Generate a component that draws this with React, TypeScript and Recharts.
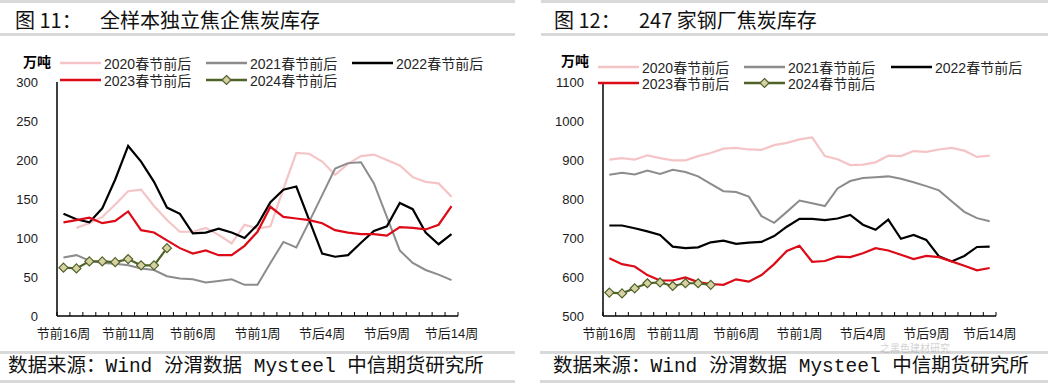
import { LineChart, Line, XAxis, YAxis } from "recharts";

const weeks = [
  "节前16周", "节前15周", "节前14周", "节前13周", "节前12周", "节前11周", "节前10周", "节前9周",
  "节前8周", "节前7周", "节前6周", "节前5周", "节前4周", "节前3周", "节前2周", "节前1周",
  "节后0周", "节后1周", "节后2周", "节后3周", "节后4周", "节后5周", "节后6周", "节后7周",
  "节后8周", "节后9周", "节后10周", "节后11周", "节后12周", "节后13周", "节后14周",
];
const labelIdx = [0, 5, 10, 15, 20, 25, 30];

// 图11 全样本独立焦企焦炭库存（万吨）
const coke20 = [null, 113, 119, 127, 143, 160, 162, 141, 123, 108, 108, 113, 104, 93, 117, 112, 115, 163, 209, 208, 198, 181, 195, 205, 207, 200, 193, 178, 172, 170, 153];
const coke21 = [75, 78, 71, 68, 67, 65, 61, 59, 51, 48, 47, 43, 45, 47, 40, 40, 68, 95, 88, 121, 155, 189, 196, 197, 170, 127, 84, 68, 59, 53, 46];
const coke22 = [131, 124, 120, 138, 175, 218, 198, 172, 139, 131, 106, 107, 112, 107, 100, 117, 146, 162, 166, 123, 80, 76, 78, 94, 109, 115, 145, 137, 107, 92, 105];
const coke23 = [120, 123, 126, 119, 122, 134, 110, 107, 97, 87, 80, 84, 78, 78, 90, 108, 140, 127, 125, 123, 119, 110, 107, 105, 105, 103, 114, 113, 111, 117, 141];
const coke24 = [62, 61, 70, 70, 69, 73, 65, 65, 87];

// 图12 247家钢厂焦炭库存（万吨）
const mill20 = [901, 905, 901, 912, 905, 899, 899, 910, 918, 929, 931, 927, 926, 938, 944, 953, 958, 910, 902, 887, 888, 894, 911, 910, 923, 921, 927, 931, 924, 908, 911];
const mill21 = [862, 867, 863, 873, 864, 875, 869, 858, 839, 820, 818, 806, 756, 739, 767, 796, 789, 782, 827, 846, 854, 856, 858, 852, 843, 833, 822, 794, 767, 751, 743];
const mill22 = [732, 732, 725, 717, 708, 678, 674, 676, 689, 693, 685, 688, 690, 705, 729, 749, 749, 746, 750, 759, 734, 721, 747, 698, 708, 695, 653, 640, 654, 677, 678];
const mill23 = [648, 633, 627, 605, 591, 591, 599, 587, 582, 580, 594, 588, 605, 633, 667, 680, 639, 641, 652, 651, 661, 674, 668, 657, 646, 654, 651, 640, 629, 617, 623];
const mill24 = [560, 558, 571, 584, 586, 577, 584, 584, 580];

const leftTicks = [0, 50, 100, 150, 200, 250, 300];
const rightTicks = [500, 600, 700, 800, 900, 1000, 1100];

const PINK = "#f5c4c6";
const GRAY = "#8c8c8c";
const BLACK = "#000000";
const RED = "#dd0a18";
const GREEN = "#4f6228";
const DIAMOND = "#d7d1a3";

const series = [
  { key: "s2020", name: "2020春节前后", color: PINK },
  { key: "s2021", name: "2021春节前后", color: GRAY },
  { key: "s2022", name: "2022春节前后", color: BLACK },
  { key: "s2023", name: "2023春节前后", color: RED },
  { key: "s2024", name: "2024春节前后", color: GREEN },
];

const FONT = "'Liberation Sans', 'Noto Sans CJK SC', sans-serif";

function buildRows(cols: (number | null)[][]) {
  return weeks.map((w, i) => {
    const row: any = { i, w };
    series.forEach((s, k) => {
      const v = cols[k][i];
      row[s.key] = v === undefined ? null : v;
    });
    return row;
  });
}

const leftRows = buildRows([coke20, coke21, coke22, coke23, coke24]);
const rightRows = buildRows([mill20, mill21, mill22, mill23, mill24]);

// tick marks between categories + labels every 5 weeks
const xTicks = [...weeks.map((_, i) => i - 0.5), weeks.length - 0.5, ...labelIdx].sort((a, b) => a - b);

function WeekTick(props: any) {
  const { x, y, payload } = props;
  const v = payload.value;
  if (!Number.isInteger(v)) {
    return <line x1={x} x2={x} y1={y} y2={y - 4} stroke="#000" strokeWidth={1} />;
  }
  return (
    <text x={x} y={y + 22} textAnchor="middle" fontSize={13} fontFamily={FONT} fill="#1a1a1a">
      {weeks[v]}
    </text>
  );
}

function Diamond(props: any) {
  const { cx, cy, index } = props;
  if (cy == null || cx == null) return <g key={index} />;
  const r = 4.5;
  return (
    <path
      key={index}
      d={`M${cx},${cy - r}L${cx + r},${cy}L${cx},${cy + r}L${cx - r},${cy}Z`}
      fill={DIAMOND}
      stroke={GREEN}
      strokeWidth={1.2}
    />
  );
}

function Panel({
  rows,
  ticks,
  domain,
  left,
  yWidth,
  rightMargin,
}: {
  rows: any[];
  ticks: number[];
  domain: [number, number];
  left: number;
  yWidth: number;
  rightMargin: number;
}) {
  return (
    <div style={{ position: "absolute", left, top: 0 }}>
      <LineChart width={524} height={352} data={rows} margin={{ top: 82, right: rightMargin, bottom: 0, left: 0 }}>
        <XAxis
          dataKey="i"
          type="number"
          domain={[-0.5, weeks.length - 0.5]}
          ticks={xTicks}
          interval={0}
          tickSize={0}
          tickMargin={0}
          tickLine={false}
          height={36}
          axisLine={{ stroke: "#000", strokeWidth: 1.5 }}
          tick={<WeekTick />}
        />
        <YAxis
          domain={domain}
          ticks={ticks}
          interval={0}
          width={yWidth}
          tickLine={false}
          tickSize={0}
          tickMargin={19}
          axisLine={{ stroke: "#000", strokeWidth: 1.5 }}
          tick={{ fontSize: 13, fontFamily: FONT, fill: "#1a1a1a" }}
        />
        {series.map((s) => (
          <Line
            key={s.key}
            type="linear"
            dataKey={s.key}
            stroke={s.color}
            strokeWidth={s.key === "s2021" ? 2 : 2.2}
            dot={s.key === "s2024" ? <Diamond /> : false}
            activeDot={false}
            connectNulls={false}
            isAnimationActive={false}
          />
        ))}
      </LineChart>
    </div>
  );
}

function LegendItem({ x, y, s }: { x: number; y: number; s: (typeof series)[number] }) {
  return (
    <div style={{ position: "absolute", left: x, top: y - 9, height: 18, display: "flex", alignItems: "center" }}>
      <svg width={41} height={12} style={{ display: "block" }}>
        <line x1={0} x2={41} y1={6} y2={6} stroke={s.color} strokeWidth={2.5} />
        {s.key === "s2024" && <path d="M20.5,1.5L25,6L20.5,10.5L16,6Z" fill={DIAMOND} stroke={GREEN} strokeWidth={1.2} />}
      </svg>
      <span style={{ marginLeft: 3, fontSize: 14, fontFamily: FONT, color: "#262626", whiteSpace: "nowrap" }}>{s.name}</span>
    </div>
  );
}

function Legend({ xs, rows, unitX, unitY }: { xs: number[]; rows: number[]; unitX: number; unitY: number }) {
  return (
    <>
      <div
        style={{
          position: "absolute",
          left: unitX,
          top: unitY - 9,
          fontSize: 14,
          lineHeight: "18px",
          fontWeight: "bold",
          fontFamily: FONT,
          color: "#000",
        }}
      >
        万吨
      </div>
      {series.map((s, k) => (
        <LegendItem key={s.key} x={xs[k % 3]} y={rows[Math.floor(k / 3)]} s={s} />
      ))}
    </>
  );
}

const bar = (left: number, top: number, width: number, h = 3) => (
  <div style={{ position: "absolute", left, top, width, height: h, background: "#d9d9d9" }} />
);

const titleStyle: any = {
  position: "absolute",
  top: 9,
  fontSize: 20,
  lineHeight: "22px",
  fontFamily: "'Noto Sans CJK SC', sans-serif",
  color: "#111",
  whiteSpace: "nowrap",
};

const sourceStyle: any = {
  position: "absolute",
  top: 355,
  fontSize: 19.5,
  lineHeight: "24px",
  fontFamily: "'Liberation Mono', 'Noto Sans CJK SC', monospace",
  color: "#111",
  whiteSpace: "pre",
};

export default function App() {
  return (
    <div style={{ position: "relative", width: 1048, height: 384, background: "#fff", overflow: "hidden" }}>
      <style>{`body{margin:0;background:#fff}`}</style>
      {bar(0, 0, 515)}
      {bar(541, 0, 507)}
      {bar(0, 33, 515)}
      {bar(541, 33, 507)}
      {bar(0, 351, 515)}
      {bar(540, 351, 508)}
      {bar(0, 380, 515)}
      {bar(540, 380, 508)}

      <div style={{ ...titleStyle, left: 15 }}>图 11：</div>
      <div style={{ ...titleStyle, left: 100 }}>全样本独立焦企焦炭库存</div>
      <div style={{ ...titleStyle, left: 554 }}>图 12：</div>
      <div style={{ ...titleStyle, left: 639 }}>247 家钢厂焦炭库存</div>

      <Panel rows={leftRows} ticks={leftTicks} domain={[0, 300]} left={0} yWidth={57} rightMargin={66} />
      <Panel rows={rightRows} ticks={rightTicks} domain={[500, 1100]} left={524} yWidth={79} rightMargin={52} />

      <Legend xs={[60, 206, 352]} rows={[63, 80]} unitX={23} unitY={62} />
      <Legend xs={[598, 744, 891]} rows={[67, 83]} unitX={561} unitY={61} />

      {/* faint account watermark, kept just below the axis labels */}
      <div
        style={{
          position: "absolute",
          left: 880,
          top: 343,
          fontSize: 10,
          lineHeight: "10px",
          fontFamily: "'Noto Sans CJK SC', sans-serif",
          color: "rgba(150,150,150,0.45)",
          whiteSpace: "nowrap",
        }}
      >
        之黑色建材研究
      </div>

      <div style={{ ...sourceStyle, left: 8 }}>数据来源：Wind 汾渭数据 Mysteel 中信期货研究所</div>
      <div style={{ ...sourceStyle, left: 553 }}>数据来源：Wind 汾渭数据 Mysteel 中信期货研究所</div>
    </div>
  );
}
